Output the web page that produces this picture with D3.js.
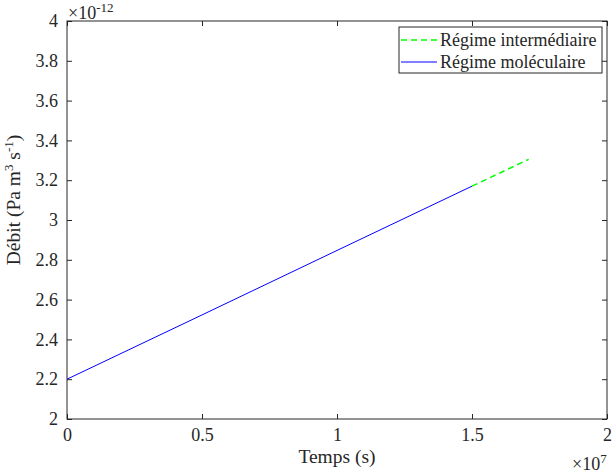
<!DOCTYPE html>
<html lang="fr">
<head>
  <meta charset="UTF-8">
  <title>Débit</title>
  <script src="https://d3js.org/d3.v7.min.js"></script>
  <style>
    body { margin: 0; background: #fff; }
    svg text { font-family: "Liberation Serif", "Times New Roman", Times, "DejaVu Serif", serif !important; fill: #262626; }
  </style>
</head>
<body>
  <div id="chart"></div>
  <script>
    // data (x in units of 1e7 s, y in units of 1e-12 Pa m3/s)
    const molTime = [0, 0.5, 1.0, 1.5];
    const molFlow = [2.2, 2.523, 2.847, 3.17];
    const interTime = [1.5, 1.71];
    const interFlow = [3.17, 3.305];
    const xTicks = [0, 0.5, 1, 1.5, 2];
    const yTicks = [2, 2.2, 2.4, 2.6, 2.8, 3, 3.2, 3.4, 3.6, 3.8, 4];

    const W = 612, H = 473;
    const m = { left: 67, right: 5, top: 21, bottom: 54 };
    const serif = '"Liberation Serif", "Times New Roman", Times, serif';

    const svg = d3.select('#chart').append('svg')
      .attr('width', W).attr('height', H)
      .attr('font-family', serif);

    const x = d3.scaleLinear().domain([0, 2]).range([m.left, W - m.right]);
    const y = d3.scaleLinear().domain([2, 4]).range([H - m.bottom, m.top]);

    const axisColor = '#262626';

    // frame
    svg.append('rect')
      .attr('x', x(0)).attr('y', y(4))
      .attr('width', x(2) - x(0)).attr('height', y(2) - y(4))
      .attr('fill', 'none').attr('stroke', axisColor).attr('stroke-width', 1);

    const fmt = d => String(d);

    // axes with inward ticks
    const gx = svg.append('g').attr('transform', `translate(0,${y(2)})`)
      .call(d3.axisBottom(x).tickValues(xTicks).tickFormat(fmt).tickSizeInner(-5).tickSizeOuter(0).tickPadding(9));
    const gxTop = svg.append('g').attr('transform', `translate(0,${y(4)})`)
      .call(d3.axisTop(x).tickValues(xTicks).tickFormat('').tickSizeInner(-5).tickSizeOuter(0));
    const gy = svg.append('g').attr('transform', `translate(${x(0)},0)`)
      .call(d3.axisLeft(y).tickValues(yTicks).tickFormat(fmt).tickSizeInner(-5).tickSizeOuter(0).tickPadding(9));
    const gyRight = svg.append('g').attr('transform', `translate(${x(2)},0)`)
      .call(d3.axisRight(y).tickValues(yTicks).tickFormat('').tickSizeInner(-5).tickSizeOuter(0));

    [gx, gxTop, gy, gyRight].forEach(g => {
      g.attr('font-family', serif);
      g.select('.domain').remove();
      g.selectAll('line').attr('stroke', axisColor);
      g.selectAll('text').attr('font-size', 18).attr('fill', axisColor);
    });

    // lines
    const line = d3.line().x(d => x(d[0])).y(d => y(d[1]));
    svg.append('path')
      .datum(molTime.map((t, i) => [t, molFlow[i]]))
      .attr('d', line).attr('fill', 'none')
      .attr('stroke', '#0000ff').attr('stroke-width', 1);
    svg.append('path')
      .datum(interTime.map((t, i) => [t, interFlow[i]]))
      .attr('d', line).attr('fill', 'none')
      .attr('stroke', '#00ff00').attr('stroke-width', 1.5)
      .attr('stroke-dasharray', '6,4');

    // exponent labels
    const e1 = svg.append('text').attr('x', 68).attr('y', 19).attr('font-size', 18);
    e1.append('tspan').text('×10');
    e1.append('tspan').attr('dy', -7).attr('font-size', 13).text('-12');
    const e2 = svg.append('text').attr('x', 572).attr('y', 470).attr('font-size', 18);
    e2.append('tspan').text('×10');
    e2.append('tspan').attr('dy', -7).attr('font-size', 13).text('7');

    // axis titles
    svg.append('text').attr('x', x(1)).attr('y', 463)
      .attr('text-anchor', 'middle').attr('font-size', 19.5).text('Temps (s)');
    const yl = svg.append('text')
      .attr('transform', 'translate(20,200) rotate(-90)')
      .attr('text-anchor', 'middle').attr('font-size', 19.5);
    yl.append('tspan').text('Débit (Pa m');
    yl.append('tspan').attr('dy', -7).attr('font-size', 13).text('3');
    yl.append('tspan').attr('dy', 7).text(' s');
    yl.append('tspan').attr('dy', -7).attr('font-size', 13).text('-1');
    yl.append('tspan').attr('dy', 7).text(')');

    // legend
    const legend = [
      { label: 'Régime intermédiaire', color: '#00ff00', dash: '6,4', width: 1.5 },
      { label: 'Régime moléculaire', color: '#0000ff', dash: null, width: 1 }
    ];
    const lg = svg.append('g').attr('transform', 'translate(399,27)');
    lg.append('rect').attr('width', 203).attr('height', 46)
      .attr('fill', '#fff').attr('stroke', axisColor).attr('stroke-width', 1);
    legend.forEach((d, i) => {
      const yy = 13 + i * 22;
      lg.append('line').attr('x1', 2).attr('x2', 38).attr('y1', yy).attr('y2', yy)
        .attr('stroke', d.color).attr('stroke-width', d.width)
        .attr('stroke-dasharray', d.dash);
      lg.append('text').attr('x', 41).attr('y', yy + 6).attr('font-size', 18).text(d.label);
    });
  </script>
</body>
</html>
